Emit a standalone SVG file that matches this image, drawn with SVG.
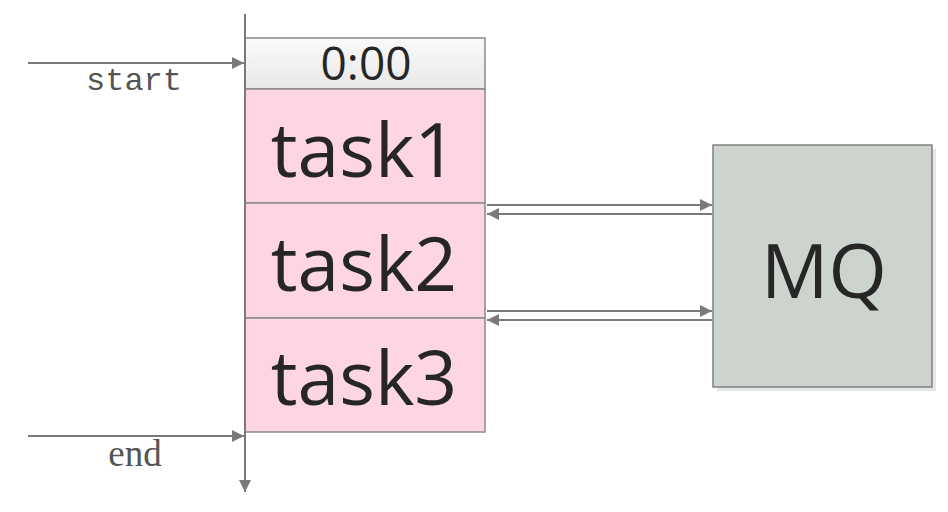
<svg xmlns="http://www.w3.org/2000/svg" width="948" height="512" viewBox="0 0 948 512">
<style>
.ln{stroke:#7a7a7a;stroke-width:2;fill:none}
.cell{fill:#fdd6e1;stroke:#8a8a8a;stroke-width:1.5}
.big{font-family:"Open Sans",sans-serif;font-size:75px;fill:#262626;text-anchor:middle}
.lbl{fill:#555;text-anchor:middle}
</style>
<defs>
<marker id="ah2" viewBox="0 0 10 10" refX="10" refY="5" markerWidth="14" markerHeight="12" orient="auto" markerUnits="userSpaceOnUse">
<path d="M0,0 L10,5 L0,10 z" fill="#7a7a7a"/>
</marker>
<linearGradient id="hg" x1="0" y1="0" x2="0" y2="1">
<stop offset="0" stop-color="#fafafa"/><stop offset="1" stop-color="#e8e8e8"/>
</linearGradient>
</defs>
<rect width="948" height="512" fill="#fff"/>
<g id="header">
<rect x="245" y="38" width="240" height="51" fill="url(#hg)" stroke="#8a8a8a" stroke-width="1.5"/>
<text x="366" y="80" font-family="Open Sans,sans-serif" font-size="46" fill="#262626" text-anchor="middle">0:00</text>
</g>
<g id="task1">
<rect class="cell" x="245" y="89" width="240" height="114"/>
<text class="big" x="364" y="177">task1</text>
</g>
<g id="task2">
<rect class="cell" x="245" y="203" width="240" height="115"/>
<text class="big" x="364" y="291">task2</text>
</g>
<g id="task3">
<rect class="cell" x="245" y="318" width="240" height="114"/>
<text class="big" x="364" y="405">task3</text>
</g>
<g id="mq">
<rect x="717" y="149" width="219" height="242" fill="#e6e8e6"/>
<rect x="713" y="145" width="219" height="242" fill="#cdd4ce" stroke="#808080" stroke-width="1.5"/>
<text class="big" x="824" y="298" font-size="82">MQ</text>
</g>
<g id="connectors">
<line class="ln" x1="245" y1="14" x2="245" y2="492" marker-end="url(#ah2)"/>
<line class="ln" x1="28" y1="63" x2="244" y2="63" marker-end="url(#ah2)"/>
<line class="ln" x1="28" y1="436" x2="244" y2="436" marker-end="url(#ah2)"/>
<line class="ln" x1="487" y1="205" x2="712" y2="205" marker-end="url(#ah2)"/>
<line class="ln" x1="712" y1="214" x2="487" y2="214" marker-end="url(#ah2)"/>
<line class="ln" x1="487" y1="311" x2="712" y2="311" marker-end="url(#ah2)"/>
<line class="ln" x1="712" y1="320" x2="487" y2="320" marker-end="url(#ah2)"/>
</g>
<g id="labels">
<text class="lbl" x="134" y="90" font-family="Liberation Mono,monospace" font-size="32">start</text>
<text class="lbl" x="135" y="466" font-family="Liberation Serif,serif" font-size="37">end</text>
</g>
</svg>
